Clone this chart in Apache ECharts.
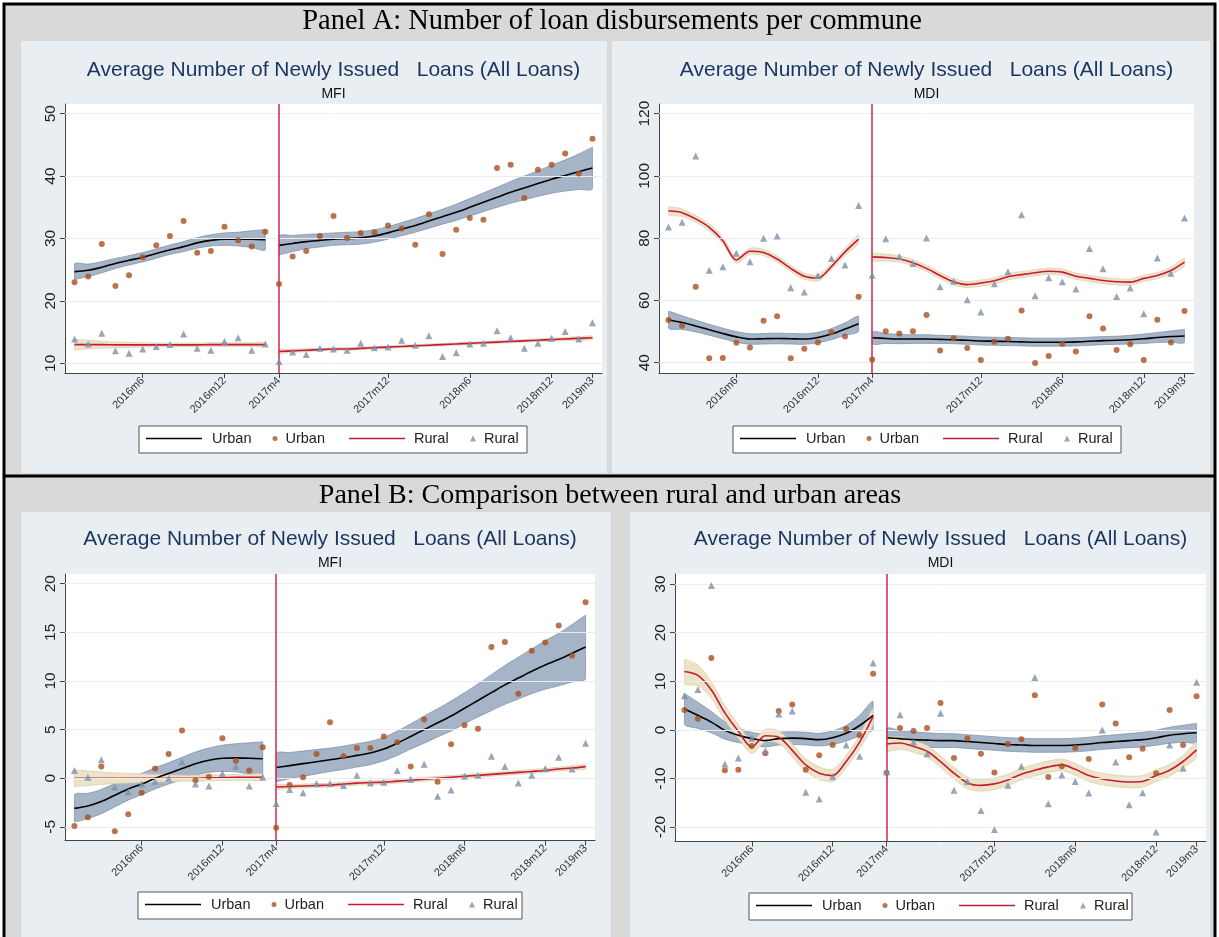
<!DOCTYPE html>
<html>
<head>
<meta charset="utf-8">
<script src="https://cdn.jsdelivr.net/npm/echarts@6/dist/echarts.min.js"></script>
<style>
  html, body { margin: 0; padding: 0; background: #ffffff; }
  #chart { width: 1219px; height: 937px; }
</style>
</head>
<body>
<div id="chart"></div>
<script>
// ---------- time axis ----------
const months = [
  '2016m1','2016m2','2016m3','2016m4','2016m5','2016m6','2016m7','2016m8','2016m9','2016m10','2016m11','2016m12',
  '2017m1','2017m2','2017m3','2017m4','2017m5','2017m6','2017m7','2017m8','2017m9','2017m10','2017m11','2017m12',
  '2018m1','2018m2','2018m3','2018m4','2018m5','2018m6','2018m7','2018m8','2018m9','2018m10','2018m11','2018m12',
  '2019m1','2019m2','2019m3'
];
const breakMonth = '2017m4';
const tickMonths = ['2016m6', '2016m12', '2017m4', '2017m12', '2018m6', '2018m12', '2019m3'];

// ---------- Panel A, MFI ----------
const aMfiYTicks = [10, 20, 30, 40, 50];
const aMfiUrbanDots = [23.0, 23.9, 29.1, 22.4, 24.1, 27.0, 28.9, 30.4, 32.8, 27.7, 28.0, 31.9, 29.7, 28.7, 31.1,
  22.7, 27.1, 28.0, 30.4, 33.6, 30.1, 30.9, 31.0, 32.1, 31.6, 29.0, 33.9, 27.5, 31.4, 33.3, 33.0, 41.3, 41.8, 36.5, 41.0, 41.8, 43.6, 40.4, 46.0];
const aMfiRuralDots = [13.9, 13.1, 14.8, 12.0, 11.6, 12.3, 12.7, 13.0, 14.7, 12.4, 12.1, 13.5, 14.1, 12.1, 13.1,
  10.3, 11.8, 11.4, 12.4, 12.3, 12.1, 13.2, 12.5, 12.6, 13.7, 12.9, 14.4, 11.1, 11.7, 13.1, 13.2, 15.2, 14.1, 12.4, 13.2, 14.0, 15.1, 13.9, 16.5];
const aMfiUrbanFitPre = [24.7, 24.9, 25.4, 26.0, 26.5, 27.0, 27.6, 28.2, 28.7, 29.3, 29.7, 29.9, 29.9, 29.9, 29.8];
const aMfiUrbanCiPre = [1.25, 1.0, 0.9, 0.8, 0.75, 0.75, 0.75, 0.75, 0.8, 0.85, 0.9, 1.0, 1.1, 1.35, 1.6];
const aMfiUrbanFitPost = [28.9, 29.2, 29.5, 29.7, 29.9, 30.0, 30.1, 30.4, 30.9, 31.5, 32.1, 32.8, 33.5, 34.2, 35.0, 35.8, 36.6, 37.4, 38.1, 38.8, 39.5, 40.1, 40.7, 41.3];
const aMfiUrbanCiPost = [1.5, 1.3, 1.15, 1.05, 1.0, 1.0, 1.0, 1.0, 1.0, 1.05, 1.1, 1.15, 1.2, 1.3, 1.4, 1.5, 1.6, 1.75, 1.9, 2.05, 2.25, 2.5, 2.85, 3.3];
const aMfiRuralFitPre = [13.0, 13.0, 13.0, 12.95, 12.95, 12.95, 12.95, 12.95, 12.95, 12.95, 13.0, 13.0, 13.0, 13.0, 13.0];
const aMfiRuralCiPre = [0.85, 0.7, 0.55, 0.45, 0.4, 0.35, 0.3, 0.3, 0.3, 0.3, 0.3, 0.3, 0.3, 0.3, 0.3];
const aMfiRuralFitPost = [11.9, 12.0, 12.1, 12.2, 12.3, 12.3, 12.4, 12.5, 12.6, 12.7, 12.8, 12.9, 13.0, 13.1, 13.2, 13.3, 13.4, 13.5, 13.6, 13.7, 13.8, 13.9, 14.0, 14.1];
const aMfiRuralCiPost = [0.3, 0.25, 0.25, 0.2, 0.2, 0.2, 0.2, 0.2, 0.2, 0.2, 0.2, 0.2, 0.2, 0.2, 0.2, 0.2, 0.2, 0.2, 0.2, 0.2, 0.25, 0.25, 0.3, 0.3];

// ---------- Panel A, MDI ----------
const aMdiYTicks = [40, 60, 80, 100, 120];
const aMdiUrbanDots = [53.7, 51.9, 64.4, 41.4, 41.5, 46.4, 44.9, 53.5, 54.9, 41.4, 44.5, 46.5, 49.8, 48.4, 61.2,
  41.0, 50.1, 49.4, 50.1, 55.3, 43.9, 47.9, 44.7, 40.9, 46.7, 47.7, 56.8, 39.9, 42.2, 46.1, 43.6, 54.9, 51.0, 44.1, 45.9, 40.9, 53.8, 46.5, 56.6];
const aMdiRuralDots = [83.6, 85.1, 106.4, 69.7, 70.8, 75.2, 72.4, 80.0, 80.7, 64.1, 62.7, 68.0, 73.5, 71.4, 90.5,
  68.1, 79.8, 74.1, 71.9, 80.1, 64.4, 66.2, 60.2, 56.3, 65.4, 69.2, 87.5, 61.5, 67.3, 66.0, 63.7, 76.7, 70.2, 61.3, 64.0, 55.7, 73.6, 68.7, 86.5];
const aMdiUrbanFitPre = [53.8, 52.9, 51.8, 50.6, 49.4, 48.3, 47.6, 47.7, 47.8, 47.7, 47.6, 48.1, 49.2, 50.8, 52.5];
const aMdiUrbanCiPre = [2.7, 2.2, 1.9, 1.75, 1.7, 1.7, 1.7, 1.7, 1.7, 1.7, 1.7, 1.7, 1.8, 2.0, 2.4];
const aMdiUrbanFitPost = [48.0, 47.8, 47.6, 47.6, 47.6, 47.5, 47.4, 47.2, 47.0, 46.9, 46.8, 46.7, 46.6, 46.6, 46.6, 46.7, 46.9, 47.1, 47.2, 47.4, 47.7, 48.1, 48.4, 48.6];
const aMdiUrbanCiPost = [1.9, 1.6, 1.5, 1.4, 1.4, 1.3, 1.3, 1.3, 1.3, 1.3, 1.3, 1.3, 1.3, 1.3, 1.3, 1.3, 1.3, 1.3, 1.3, 1.4, 1.5, 1.6, 1.8, 2.1];
const aMdiRuralFitPre = [88.8, 88.2, 86.2, 83.5, 79.2, 73.0, 75.8, 75.4, 73.3, 70.3, 67.8, 67.2, 70.9, 75.6, 79.7];
const aMdiRuralCiPre = [1.3, 1.2, 1.1, 1.1, 1.0, 1.0, 1.0, 1.0, 1.0, 1.0, 1.0, 1.0, 1.0, 1.2, 1.4];
const aMdiRuralFitPost = [74.0, 73.8, 73.3, 72.1, 70.3, 68.0, 66.0, 65.1, 65.6, 66.3, 67.6, 68.3, 68.9, 69.4, 69.1, 67.8, 67.1, 66.4, 66.0, 65.9, 67.1, 68.0, 69.6, 72.3];
const aMdiRuralCiPost = [1.2, 1.1, 1.0, 1.0, 1.0, 1.0, 1.0, 1.0, 1.0, 1.0, 1.0, 1.0, 1.0, 1.0, 1.0, 1.0, 1.0, 1.0, 1.0, 1.0, 1.0, 1.0, 1.1, 1.3];

// ---------- Panel B, MFI ----------
const bMfiYTicks = [-5, 0, 5, 10, 15, 20];
const bMfiUrbanDots = [-4.9, -4.0, 1.2, -5.45, -3.7, -1.5, 1.0, 2.5, 4.9, -0.2, 0.15, 4.1, 1.8, 0.8, 3.2,
  -5.1, -0.7, 0.1, 2.5, 5.75, 2.25, 3.1, 3.1, 4.3, 3.7, 1.2, 6.05, -0.35, 3.5, 5.45, 5.1, 13.5, 14.0, 8.7, 13.1, 13.95, 15.7, 12.6, 18.1];
const bMfiRuralDots = [0.8, 0.1, 1.9, -0.9, -1.4, -0.6, -0.3, 0.0, 1.7, -0.6, -0.8, 0.5, 1.2, -0.8, 0.1,
  -2.6, -1.15, -1.5, -0.55, -0.55, -0.75, 0.3, -0.5, -0.4, 0.8, -0.1, 1.45, -1.85, -1.2, 0.2, 0.3, 2.25, 1.2, -0.5, 0.3, 1.0, 2.15, 0.95, 3.6];
const bMfiUrbanFitPre = [-3.1, -2.85, -2.4, -1.75, -1.1, -0.6, 0.0, 0.5, 1.0, 1.5, 1.85, 2.05, 2.1, 2.05, 2.0];
const bMfiUrbanCiPre = [1.4, 1.3, 1.25, 1.2, 1.15, 1.1, 1.1, 1.1, 1.15, 1.2, 1.25, 1.35, 1.45, 1.6, 1.75];
const bMfiUrbanFitPost = [1.1, 1.3, 1.5, 1.7, 1.9, 2.1, 2.35, 2.6, 3.0, 3.6, 4.3, 5.0, 5.7, 6.4, 7.2, 8.0, 8.8, 9.6, 10.3, 11.0, 11.65, 12.2, 12.85, 13.5];
const bMfiUrbanCiPost = [1.45, 1.35, 1.3, 1.25, 1.2, 1.2, 1.2, 1.2, 1.2, 1.25, 1.3, 1.4, 1.45, 1.55, 1.6, 1.7, 1.85, 2.0, 2.15, 2.3, 2.5, 2.7, 2.95, 3.25];
const bMfiRuralFitPre = [0.0, 0.0, 0.0, 0.0, 0.0, 0.0, 0.0, 0.0, 0.0, 0.0, 0.05, 0.05, 0.1, 0.1, 0.1];
const bMfiRuralCiPre = [0.85, 0.75, 0.65, 0.55, 0.5, 0.45, 0.4, 0.35, 0.3, 0.3, 0.3, 0.3, 0.3, 0.3, 0.3];
const bMfiRuralFitPost = [-0.9, -0.85, -0.8, -0.75, -0.7, -0.6, -0.5, -0.45, -0.4, -0.3, -0.2, -0.1, 0.0, 0.1, 0.2, 0.3, 0.4, 0.5, 0.6, 0.7, 0.8, 0.95, 1.05, 1.2];
const bMfiRuralCiPost = [0.25, 0.2, 0.2, 0.2, 0.2, 0.2, 0.2, 0.2, 0.2, 0.2, 0.2, 0.2, 0.2, 0.2, 0.2, 0.2, 0.2, 0.2, 0.2, 0.2, 0.2, 0.2, 0.2, 0.25];

// ---------- Panel B, MDI ----------
const bMdiYTicks = [-20, -10, 0, 10, 20, 30];
const bMdiUrbanDots = [4.1, 2.3, 14.8, -8.3, -8.2, -3.3, -4.8, 3.9, 5.2, -8.2, -5.2, -3.1, 0.2, -1.1, 11.55,
  -8.8, 0.4, -0.25, 0.4, 5.55, -5.8, -1.75, -4.9, -8.75, -2.9, -1.9, 7.15, -9.7, -7.45, -3.7, -6.0, 5.2, 1.3, -5.6, -3.9, -8.9, 4.1, -3.1, 6.9];
const bMdiRuralDots = [7.0, 8.3, 29.7, -7.0, -5.8, -1.7, -4.3, 3.25, 3.9, -12.8, -14.2, -9.6, -3.1, -5.4, 13.75,
  -8.6, 3.1, -2.5, -4.9, 3.4, -12.4, -10.6, -16.6, -20.5, -11.4, -7.5, 10.8, -15.2, -9.3, -10.6, -13.0, 0.0, -6.6, -15.4, -12.9, -21.0, -3.1, -7.9, 9.8];
const bMdiUrbanFitPre = [4.3, 3.0, 1.6, -0.1, -1.1, -1.8, -2.2, -1.8, -1.7, -1.8, -2.0, -1.6, -0.7, 0.9, 3.0];
const bMdiUrbanCiPre = [3.1, 2.7, 2.2, 1.8, 1.5, 1.3, 1.3, 1.3, 1.3, 1.3, 1.3, 1.4, 1.6, 2.1, 2.85];
const bMdiUrbanFitPost = [-1.6, -1.8, -2.0, -2.1, -2.2, -2.2, -2.4, -2.6, -2.8, -3.0, -3.1, -3.2, -3.2, -3.2, -3.1, -2.9, -2.6, -2.4, -2.2, -2.0, -1.6, -1.1, -0.8, -0.6];
const bMdiUrbanCiPost = [1.9, 1.7, 1.6, 1.5, 1.45, 1.4, 1.4, 1.4, 1.4, 1.4, 1.4, 1.4, 1.4, 1.4, 1.4, 1.4, 1.4, 1.4, 1.45, 1.5, 1.55, 1.65, 1.75, 1.9];
const bMdiRuralFitPre = [12.0, 11.2, 8.2, 3.5, -0.3, -3.5, -1.2, -1.5, -4.2, -7.2, -8.9, -9.4, -6.5, -2.5, 2.8];
const bMdiRuralCiPre = [2.5, 2.1, 1.7, 1.5, 1.4, 1.3, 1.3, 1.3, 1.3, 1.3, 1.3, 1.3, 1.3, 1.4, 1.6];
const bMdiRuralFitPost = [-2.9, -2.7, -3.4, -4.4, -6.5, -8.9, -10.9, -11.4, -11.1, -10.3, -9.1, -8.3, -7.6, -7.2, -8.1, -9.4, -10.1, -10.5, -10.7, -10.6, -9.4, -8.3, -6.5, -4.1];
const bMdiRuralCiPost = [1.4, 1.3, 1.2, 1.2, 1.2, 1.2, 1.2, 1.2, 1.2, 1.2, 1.2, 1.2, 1.2, 1.2, 1.2, 1.2, 1.2, 1.2, 1.2, 1.2, 1.2, 1.2, 1.3, 1.5];

// ---------- texts ----------
const panelHeaderA = 'Panel A: Number of loan disbursements per commune';
const panelHeaderB = 'Panel B: Comparison between rural and urban areas';
const chartTitle = 'Average Number of Newly Issued   Loans (All Loans)';

// ---------- styling ----------
const SANS = '"Liberation Sans", Arial, sans-serif';
const SERIF = '"Liberation Serif", "Times New Roman", serif';
const C = {
  outer: '#d9d9d9',
  region: '#e8eef2',
  title: '#1c355e',
  urbanLine: '#000000',
  ruralLine: '#c8193c',
  urbanDot: '#a9501f',
  ruralDot: '#7d91a8',
  urbanBand: '#a5b4c6',
  urbanBandEdge: '#7a8da2',
  ruralBand: '#ebe4c6',
  ruralBandEdge: '#d9cfab',
  vline: '#d3264f',
  grid: '#ececec',
  axis: '#444444'
};

const panels = [
  { sub: 'MFI', yMin: 8.45, yMax: 51.55, yTicks: aMfiYTicks,
    urbanDots: aMfiUrbanDots, ruralDots: aMfiRuralDots,
    urbanFit: [aMfiUrbanFitPre, aMfiUrbanFitPost], urbanCi: [aMfiUrbanCiPre, aMfiUrbanCiPost],
    ruralFit: [aMfiRuralFitPre, aMfiRuralFitPost], ruralCi: [aMfiRuralCiPre, aMfiRuralCiPost],
    region: [21, 41, 586, 432], grid: [65, 104, 537, 269], legendBox: [139, 426, 388, 27], titleTop: 60 },
  { sub: 'MDI', yMin: 36.7, yMax: 123.1, yTicks: aMdiYTicks,
    urbanDots: aMdiUrbanDots, ruralDots: aMdiRuralDots,
    urbanFit: [aMdiUrbanFitPre, aMdiUrbanFitPost], urbanCi: [aMdiUrbanCiPre, aMdiUrbanCiPost],
    ruralFit: [aMdiRuralFitPre, aMdiRuralFitPost], ruralCi: [aMdiRuralCiPre, aMdiRuralCiPost],
    region: [612, 41, 598, 432], grid: [659, 104, 535, 269], legendBox: [733, 426, 388, 27], titleTop: 60 },
  { sub: 'MFI', yMin: -6.4, yMax: 21.0, yTicks: bMfiYTicks,
    urbanDots: bMfiUrbanDots, ruralDots: bMfiRuralDots,
    urbanFit: [bMfiUrbanFitPre, bMfiUrbanFitPost], urbanCi: [bMfiUrbanCiPre, bMfiUrbanCiPost],
    ruralFit: [bMfiRuralFitPre, bMfiRuralFitPost], ruralCi: [bMfiRuralCiPre, bMfiRuralCiPost],
    region: [21, 512, 590, 425], grid: [65, 574, 530, 266.5], legendBox: [138, 892, 384, 27], titleTop: 529 },
  { sub: 'MDI', yMin: -22.95, yMax: 32.06, yTicks: bMdiYTicks,
    urbanDots: bMdiUrbanDots, ruralDots: bMdiRuralDots,
    urbanFit: [bMdiUrbanFitPre, bMdiUrbanFitPost], urbanCi: [bMdiUrbanCiPre, bMdiUrbanCiPost],
    ruralFit: [bMdiRuralFitPre, bMdiRuralFitPost], ruralCi: [bMdiRuralCiPre, bMdiRuralCiPost],
    region: [630, 512, 580, 425], grid: [675, 574, 531, 267.5], legendBox: [749, 893, 383, 27], titleTop: 529 }
];

const breakIdx = months.indexOf(breakMonth);
const tickIdx = tickMonths.map(m => months.indexOf(m));
const preX = months.slice(0, breakIdx).map((_, i) => i);
const postX = months.slice(breakIdx).map((_, i) => i + breakIdx);

// confidence band: one filled polygon through the upper and lower limits
function bandSeries(gi, xs, fit, ci, fill, edge) {
  const rows = fit.map((v, i) => [xs[i], v - ci[i], v + ci[i]]);
  return {
    type: 'custom', xAxisIndex: gi, yAxisIndex: gi, silent: true, z: 2, clip: true, animation: false,
    data: rows, encode: { x: 0, y: [1, 2] },
    renderItem: (params, api) => {
      if (params.dataIndex !== 0) return null;
      const upper = rows.map(r => api.coord([r[0], r[2]]));
      const lower = rows.map(r => api.coord([r[0], r[1]])).reverse();
      const pts = upper.concat(lower);
      const xsPx = pts.map(q => q[0]), ysPx = pts.map(q => q[1]);
      const bounds = [[Math.min(...xsPx), Math.min(...ysPx)], [Math.max(...xsPx), Math.max(...ysPx)]];
      return {
        type: 'polygon',
        shape: { points: pts, smooth: 0.3, smoothConstraint: bounds },
        style: { fill: fill, stroke: edge, lineWidth: 0.7 }
      };
    }
  };
}

function fitSeries(gi, name, xs, fit, color) {
  return {
    type: 'line', name: name, xAxisIndex: gi, yAxisIndex: gi, symbol: 'none', smooth: 0.3,
    data: fit.map((v, i) => [xs[i], v]), z: 4, silent: true, animation: false,
    lineStyle: { color: color, width: 1.6 }, itemStyle: { color: color }
  };
}

const grids = [], xAxes = [], yAxes = [], series = [], legends = [], titles = [], graphics = [];

// page frame: shaded table cells
graphics.push({ type: 'rect', z: -20, shape: { x: 4, y: 4, width: 1211, height: 940 }, style: { fill: C.outer } });

panels.forEach((p, gi) => {
  const [gx, gy, gw, gh] = p.grid;
  const [rx, ry, rw, rh] = p.region;
  const [lx, ly, lw, lh] = p.legendBox;
  const cx = gx + gw / 2;

  graphics.push({ type: 'rect', z: -15, shape: { x: rx, y: ry, width: rw, height: rh }, style: { fill: C.region } });
  graphics.push({ type: 'rect', z: -5, shape: { x: lx, y: ly, width: lw, height: lh },
    style: { fill: '#ffffff', stroke: '#555555', lineWidth: 1 } });

  grids.push({ left: gx, top: gy, width: gw, height: gh, show: true, backgroundColor: '#ffffff', borderWidth: 0 });

  xAxes.push({
    gridIndex: gi, type: 'value', min: -0.7, max: 38.7,
    axisLine: { show: true, onZero: false, lineStyle: { color: C.axis, width: 1 } },
    axisTick: { show: true, customValues: tickIdx, length: 5, lineStyle: { color: C.axis } },
    axisLabel: { customValues: tickIdx, rotate: 45, margin: 6, fontSize: 11, fontFamily: SANS, color: '#333333',
      formatter: v => months[Math.round(v)] },
    splitLine: { show: false }
  });
  yAxes.push({
    gridIndex: gi, type: 'value', min: p.yMin, max: p.yMax,
    axisLine: { show: true, onZero: false, lineStyle: { color: C.axis, width: 1 } },
    axisTick: { show: true, customValues: p.yTicks, length: 5, lineStyle: { color: C.axis } },
    axisLabel: { customValues: p.yTicks, rotate: 90, margin: 6, fontSize: 15.5, fontFamily: SANS, color: '#222222' },
    splitLine: { show: false }
  });

  // horizontal grid lines at the labelled values
  series.push({
    type: 'line', name: 'grid' + gi, xAxisIndex: gi, yAxisIndex: gi, data: [], z: 1, silent: true,
    markLine: { silent: true, symbol: ['none', 'none'], label: { show: false }, animation: false,
      lineStyle: { color: C.grid, width: 1, type: 'solid' },
      data: p.yTicks.map(v => ({ yAxis: v })) }
  });

  // confidence bands, before and after the break
  [preX, postX].forEach((xs, s) => series.push(bandSeries(gi, xs, p.urbanFit[s], p.urbanCi[s], C.urbanBand, C.urbanBandEdge)));
  [preX, postX].forEach((xs, s) => series.push(bandSeries(gi, xs, p.ruralFit[s], p.ruralCi[s], C.ruralBand, C.ruralBandEdge)));

  // vertical reference line at the break month
  series.push({
    type: 'line', name: 'break' + gi, xAxisIndex: gi, yAxisIndex: gi, data: [], z: 3, silent: true,
    markLine: { silent: true, symbol: ['none', 'none'], label: { show: false }, animation: false,
      lineStyle: { color: C.vline, width: 1.5, type: 'solid' }, data: [{ xAxis: breakIdx }] }
  });

  // fitted lines
  [preX, postX].forEach((xs, s) => series.push(fitSeries(gi, 'Urban fit', xs, p.urbanFit[s], C.urbanLine)));
  [preX, postX].forEach((xs, s) => series.push(fitSeries(gi, 'Rural fit', xs, p.ruralFit[s], C.ruralLine)));

  // monthly averages
  series.push({
    type: 'scatter', name: 'Urban', xAxisIndex: gi, yAxisIndex: gi, symbol: 'circle', symbolSize: 6, z: 5,
    itemStyle: { color: C.urbanDot }, data: p.urbanDots.map((v, i) => [i, v]), animation: false
  });
  series.push({
    type: 'scatter', name: 'Rural', xAxisIndex: gi, yAxisIndex: gi, symbol: 'triangle', symbolSize: 7, z: 5,
    itemStyle: { color: C.ruralDot }, data: p.ruralDots.map((v, i) => [i, v]), animation: false
  });

  // titles
  titles.push({
    text: chartTitle, subtext: p.sub, left: cx, top: p.titleTop, textAlign: 'center', padding: 0, itemGap: 6,
    textStyle: { fontFamily: SANS, fontSize: 21, fontWeight: 'normal', color: C.title },
    subtextStyle: { fontFamily: SANS, fontSize: 14, color: '#111111' }
  });

  // legend keys, one component each so every key keeps its own symbol size
  const legendTop = ly + lh / 2 - 8.5;
  const entries = [
    { name: 'Urban fit', off: 7, w: 56, h: 1.5, icon: 'rect', pad: 5 },
    { name: 'Urban', off: 133.5, w: 5, h: 5, icon: 'circle', pad: 3 },
    { name: 'Rural fit', off: 210, w: 56, h: 1.5, icon: 'rect', pad: 4 },
    { name: 'Rural', off: 331, w: 6, h: 6, icon: 'triangle', pad: 3 }
  ];
  entries.forEach(e => legends.push({
    data: [{ name: e.name, icon: e.icon }], left: lx + e.off, top: legendTop, padding: 0, selectedMode: false,
    itemWidth: e.w, itemHeight: e.h, formatter: n => n.replace(' fit', ''),
    textStyle: { fontFamily: SANS, fontSize: 14.5, color: '#222222', padding: [0, 0, 0, e.pad] }
  }));
});

// table rules and panel headings
graphics.push({ type: 'rect', z: 10, shape: { x: 4, y: 4, width: 1211, height: 940 },
  style: { fill: null, stroke: '#000000', lineWidth: 3 } });
graphics.push({ type: 'rect', z: 10, shape: { x: 4, y: 474.5, width: 1211, height: 3 }, style: { fill: '#000000' } });
graphics.push({ type: 'text', z: 10, x: 612, y: 22,
  style: { text: panelHeaderA, font: '28.5px ' + SERIF, fill: '#000000', textAlign: 'center', textVerticalAlign: 'middle' } });
graphics.push({ type: 'text', z: 10, x: 610, y: 496,
  style: { text: panelHeaderB, font: '28px ' + SERIF, fill: '#000000', textAlign: 'center', textVerticalAlign: 'middle' } });

const chart = echarts.init(document.getElementById('chart'), null, { renderer: 'canvas' });
chart.setOption({
  backgroundColor: '#ffffff',
  animation: false,
  title: titles,
  grid: grids,
  xAxis: xAxes,
  yAxis: yAxes,
  legend: legends,
  graphic: { elements: graphics },
  series: series
});
</script>
</body>
</html>
